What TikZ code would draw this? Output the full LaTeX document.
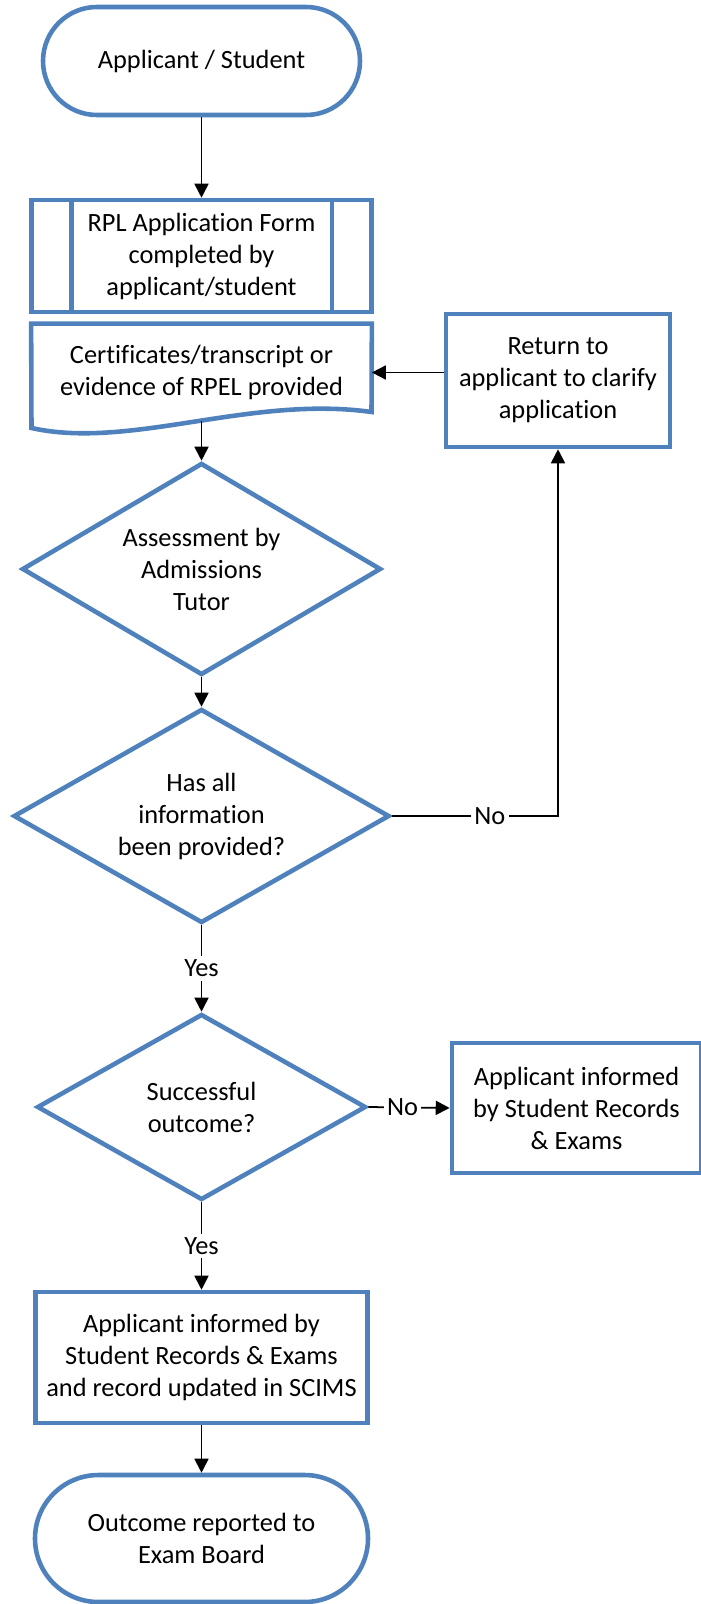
\documentclass[tikz,border=0pt]{standalone}
\usepackage{fontspec}
\setmainfont[Ligatures=NoCommon]{Carlito}
\usetikzlibrary{shapes.geometric,arrows.meta}
\definecolor{boxblue}{HTML}{4F81BD}
\tikzset{
  every node/.style={font=\fontsize{15}{18.2}\selectfont, align=center},
  boxline/.style={draw=boxblue, line width=2.6pt},
  termbox/.style={boxline, rectangle, minimum width=6.34cm, minimum height=2.16cm, rounded corners=1.08cm},
  procbox/.style={boxline, rectangle, inner sep=0pt},
  decbox/.style={boxline, diamond, inner sep=0pt},
  lbl/.style={fill=white, inner sep=2pt},
  flow/.style={line width=1pt, -{Triangle[length=0.28cm,width=0.28cm]}}
}
\begin{document}
\begin{tikzpicture}
  \useasboundingbox (0,0) rectangle (14,-32.08);
  \node[termbox] (start) at (4.03,-1.22) {Applicant / Student};
  \node[procbox, minimum width=6.8cm, minimum height=2.24cm] (form) at (4.03,-5.12)
    {RPL Application Form\\completed by\\applicant/student};
  \draw[boxline] ([xshift=0.84cm]form.north west) -- ([xshift=0.84cm]form.south west);
  \draw[boxline] ([xshift=-0.84cm]form.north east) -- ([xshift=-0.84cm]form.south east);
  \node[inner sep=0pt, minimum width=6.8cm, minimum height=1.94cm] (doc) at (4.03,-7.45)
    {Certificates/transcript or\\evidence of RPEL provided};
  \draw[boxline] (doc.north west) -- (doc.north east) -- (7.43,-8.24)
    .. controls (5.0,-7.9) and (2.6,-9.0) .. (0.63,-8.56) -- cycle;
  \node[procbox, minimum width=4.48cm, minimum height=2.66cm] (ret) at (11.16,-7.61)
    {Return to\\applicant to clarify\\application};
  \node[decbox, aspect=1.69, minimum width=7.18cm, minimum height=4.24cm] (d1) at (4.03,-11.38)
    {Assessment by\\Admissions\\Tutor};
  \node[decbox, aspect=1.76, minimum width=7.52cm, minimum height=4.28cm] (d2) at (4.03,-16.32)
    {Has all\\information\\been provided?};
  \node[decbox, aspect=1.77, minimum width=6.58cm, minimum height=3.72cm] (d3) at (4.03,-22.14)
    {Successful\\outcome?};
  \node[procbox, minimum width=4.98cm, minimum height=2.6cm] (inf) at (11.53,-22.16)
    {Applicant informed\\by Student Records\\\& Exams};
  \node[procbox, minimum width=6.64cm, minimum height=2.62cm] (upd) at (4.03,-27.15)
    {Applicant informed by\\Student Records \& Exams\\and record updated in SCIMS};
  \node[termbox, minimum width=6.66cm, minimum height=2.54cm, rounded corners=1.27cm] (end) at (4.03,-30.77)
    {Outcome reported to\\Exam Board};
  \begin{scope}[flow]
    \draw (start) to (form);
    \draw (ret.west |- doc.east) to (doc.east);
    \draw (doc.south) to (d1.north);
    \draw (d1) to (d2);
    \draw (d2.east) -- node[lbl, pos=0.59]{No} (ret.south |- d2.east) -- (ret.south);
    \draw (d2) -- node[lbl]{Yes} (d3);
    \draw (d3.east) -- node[lbl, pos=0.42]{No} (inf.west);
    \draw (d3) -- node[lbl]{Yes} (upd);
    \draw (upd) to (end);
  \end{scope}
\end{tikzpicture}
\end{document}
